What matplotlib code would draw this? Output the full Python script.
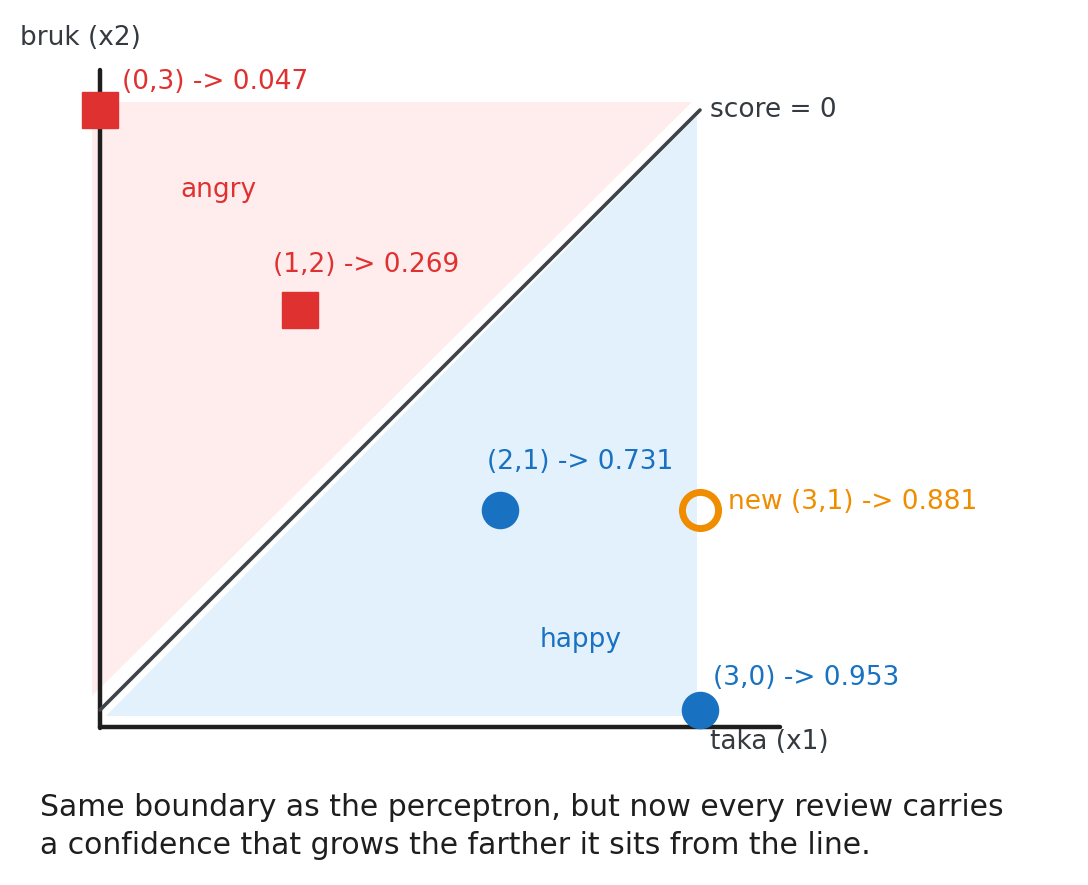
import matplotlib
matplotlib.use("Agg")
import matplotlib.pyplot as plt
from matplotlib.patches import Polygon

# points and their confidence
angry_x = [0, 1]
angry_y = [3, 2]
angry_p = ["0.047", "0.269"]
happy_x = [2, 3]
happy_y = [1, 0]
happy_p = ["0.731", "0.953"]
new_x = [3]
new_y = [1]
new_p = ["0.881"]

boundary_x = [0, 3]
boundary_y = [0, 3]

RED = "#e03131"
BLUE = "#1971c2"
ORANGE = "#f08c00"
DARK = "#343a40"
INK = "#1e1e1e"

plt.rcParams['font.family'] = ['DejaVu Sans']

fig = plt.figure(figsize=(10.88, 8.85), dpi=100)
ax = fig.add_axes([0, 0, 1, 1])
ax.set_xlim(-0.5, 4.94)
ax.set_ylim(-0.875, 3.55)
ax.axis("off")

# shaded half planes (slightly offset, sketch style)
ax.add_patch(Polygon([(-0.04, 0.07), (-0.04, 3.04), (2.96, 3.04)],
                     closed=True, facecolor="#ffeded", edgecolor="none", zorder=0))
ax.add_patch(Polygon([(0.03, -0.03), (2.985, -0.03), (2.985, 2.97)],
                     closed=True, facecolor="#e3f1fd", edgecolor="none", zorder=0))

# axes drawn as plain lines
ax.plot([0, 0], [-0.09, 3.2], color=INK, lw=3.2, solid_capstyle="round", zorder=2)
ax.plot([0, 3.4], [-0.085, -0.085], color=INK, lw=3.2, solid_capstyle="round", zorder=2)

# decision boundary
ax.plot(boundary_x, boundary_y, color="#3d4349", lw=2.6, solid_capstyle="round", zorder=3)

ax.plot(angry_x, angry_y, "s", color=RED, markersize=26, zorder=4)
ax.plot(happy_x, happy_y, "o", color=BLUE, markersize=26, zorder=4)
ax.plot(new_x, new_y, "o", markerfacecolor="none", markeredgecolor=ORANGE,
        markeredgewidth=5, markersize=26, zorder=4)

fs = 19
for x, y, p in zip(angry_x, angry_y, angry_p):
    if x == 0:
        ax.text(x + 0.11, y + 0.14, f"({x},{y}) -> {p}", color=RED, fontsize=fs, va="center")
    else:
        ax.text(x - 0.135, y + 0.225, f"({x},{y}) -> {p}", color=RED, fontsize=fs, va="center")
for x, y, p in zip(happy_x, happy_y, happy_p):
    if x == 3:
        ax.text(x + 0.065, y + 0.16, f"({x},{y}) -> {p}", color=BLUE, fontsize=fs, va="center")
    else:
        ax.text(x - 0.065, y + 0.24, f"({x},{y}) -> {p}", color=BLUE, fontsize=fs, va="center")
for x, y, p in zip(new_x, new_y, new_p):
    ax.text(x + 0.14, y + 0.04, f"new ({x},{y}) -> {p}", color=ORANGE, fontsize=fs, va="center")

ax.text(0.4, 2.6, "angry", color=RED, fontsize=fs, va="center")
ax.text(2.2, 0.35, "happy", color=BLUE, fontsize=fs, va="center")
ax.text(3.05, 3.0, "score = 0", color=DARK, fontsize=fs, va="center")
ax.text(3.05, -0.16, "taka (x1)", color=DARK, fontsize=fs, va="center")
ax.text(-0.4, 3.36, "bruk (x2)", color=DARK, fontsize=fs, va="center")

ax.text(-0.3, -0.49, "Same boundary as the perceptron, but now every review carries",
        color=INK, fontsize=21.5, va="center")
ax.text(-0.3, -0.68, "a confidence that grows the farther it sits from the line.",
        color=INK, fontsize=21.5, va="center")

fig.savefig("out.png", dpi=100)
